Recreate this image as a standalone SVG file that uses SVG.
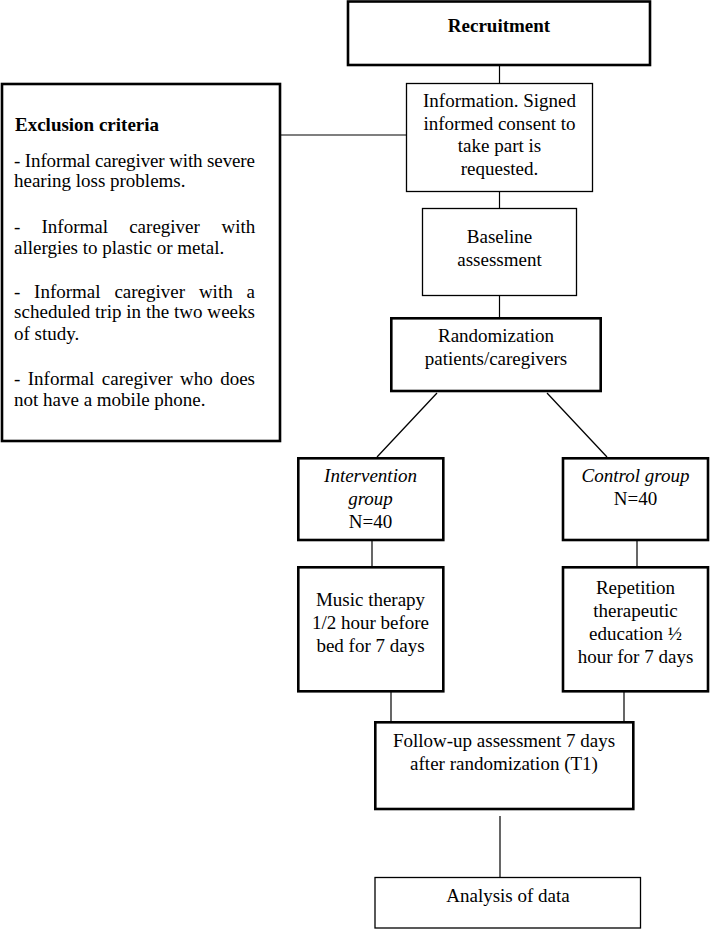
<svg xmlns="http://www.w3.org/2000/svg" width="710" height="929" viewBox="0 0 710 929">
<style>
  .thick { fill: #fff; stroke: #000; stroke-width: 2.6; }
  .thin { fill: #fff; stroke: #000; stroke-width: 1.3; }
  .conn line { stroke: #000; stroke-width: 1.2; }
  text { font-family: "Liberation Serif", "Times New Roman", serif; font-size: 19px; fill: #000; }
  .c { text-anchor: middle; }
  .b { font-weight: bold; }
  .i { font-style: italic; }
</style>
<rect width="710" height="929" fill="#fff"/>
<g id="connectors" class="conn">
  <line x1="499.5" y1="66" x2="499.5" y2="84"/>
  <line x1="281" y1="135" x2="406" y2="135"/>
  <line x1="499.5" y1="192" x2="499.5" y2="208"/>
  <line x1="499.5" y1="296" x2="499.5" y2="318"/>
  <line x1="437" y1="393" x2="377" y2="457"/>
  <line x1="547" y1="393" x2="607" y2="457"/>
  <line x1="372" y1="541" x2="372" y2="567"/>
  <line x1="637" y1="541" x2="637" y2="567"/>
  <line x1="391" y1="692" x2="391" y2="722"/>
  <line x1="624" y1="692" x2="624" y2="722"/>
  <line x1="500" y1="816" x2="500" y2="877"/>
</g>
<g id="recruitment">
  <rect class="thick" x="348" y="1.5" width="302" height="63.5"/>
  <text class="c b" x="499" y="32">Recruitment</text>
</g>
<g id="information">
  <rect class="thin" x="406.5" y="83.5" width="186" height="108"/>
  <text class="c" x="499.5" y="107">Information. Signed</text>
  <text class="c" x="499.5" y="129.5">informed consent to</text>
  <text class="c" x="499.5" y="152">take part is</text>
  <text class="c" x="499.5" y="174.5">requested.</text>
</g>
<g id="exclusion">
  <rect class="thick" x="2" y="84" width="278" height="357"/>
  <text class="b" x="15" y="131">Exclusion criteria</text>
  <text x="14" y="167" textLength="241" lengthAdjust="spacing">- Informal caregiver with severe</text>
  <text x="14" y="187">hearing loss problems.</text>
  <text y="233"><tspan x="14">-</tspan><tspan x="41.5">Informal</tspan><tspan x="129.2">caregiver</tspan><tspan x="221.5">with</tspan></text>
  <text x="14" y="254">allergies to plastic or metal.</text>
  <text y="298"><tspan x="14">-</tspan><tspan x="34.1">Informal</tspan><tspan x="114.4">caregiver</tspan><tspan x="198.9">with</tspan><tspan x="246.5">a</tspan></text>
  <text x="14" y="318" textLength="241" lengthAdjust="spacing">scheduled trip in the two weeks</text>
  <text x="14" y="340">of study.</text>
  <text y="385"><tspan x="14">-</tspan><tspan x="27.8">Informal</tspan><tspan x="101.8">caregiver</tspan><tspan x="180">who</tspan><tspan x="220.2">does</tspan></text>
  <text x="14" y="406">not have a mobile phone.</text>
</g>
<g id="baseline">
  <rect class="thin" x="422.5" y="208.5" width="154" height="87"/>
  <text class="c" x="499.5" y="243">Baseline</text>
  <text class="c" x="499.5" y="266">assessment</text>
</g>
<g id="randomization">
  <rect class="thick" x="391.3" y="318.3" width="209.4" height="72.7"/>
  <text class="c" x="496" y="342">Randomization</text>
  <text class="c" x="496" y="364.5">patients/caregivers</text>
</g>
<g id="intervention">
  <rect class="thick" x="298.3" y="458.3" width="145" height="81.7"/>
  <text class="c i" x="370.5" y="482">Intervention</text>
  <text class="c i" x="370.5" y="505">group</text>
  <text class="c" x="370.5" y="528">N=40</text>
</g>
<g id="control">
  <rect class="thick" x="563" y="458.3" width="145" height="81.7"/>
  <text class="c i" x="635.5" y="482">Control group</text>
  <text class="c" x="635.5" y="505">N=40</text>
</g>
<g id="music">
  <rect class="thick" x="298.3" y="567.3" width="145" height="124"/>
  <text class="c" x="370.5" y="606">Music therapy</text>
  <text class="c" x="370.5" y="629">1/2 hour before</text>
  <text class="c" x="370.5" y="652">bed for 7 days</text>
</g>
<g id="repetition">
  <rect class="thick" x="563" y="567.3" width="145" height="124"/>
  <text class="c" x="635.5" y="594">Repetition</text>
  <text class="c" x="635.5" y="617">therapeutic</text>
  <text class="c" x="635.5" y="640">education ½</text>
  <text class="c" x="635.5" y="663">hour for 7 days</text>
</g>
<g id="followup">
  <rect class="thick" x="375.3" y="722.3" width="258" height="86.7"/>
  <text class="c" x="504" y="747">Follow-up assessment 7 days</text>
  <text class="c" x="504" y="770">after randomization (T1)</text>
</g>
<g id="analysis">
  <rect class="thin" x="375" y="877.5" width="265.5" height="50.5"/>
  <text class="c" x="508" y="902">Analysis of data</text>
</g>
</svg>
